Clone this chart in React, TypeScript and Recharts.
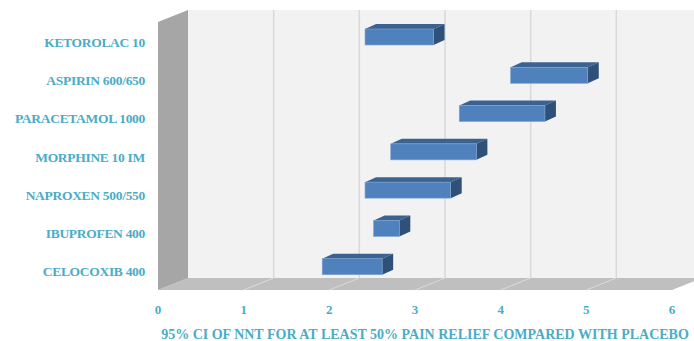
import { BarChart, Bar, XAxis, YAxis, ReferenceArea } from "recharts";

const drugs = [
  "KETOROLAC 10",
  "ASPIRIN 600/650",
  "PARACETAMOL 1000",
  "MORPHINE 10 IM",
  "NAPROXEN 500/550",
  "IBUPROFEN 400",
  "CELOCOXIB 400",
];
const ciLow = [2.3, 4.0, 3.4, 2.6, 2.3, 2.4, 1.8];
const ciHigh = [3.1, 4.9, 4.4, 3.6, 3.3, 2.7, 2.5];
const xTicks = [0, 1, 2, 3, 4, 5, 6];
const TITLE = "95% CI OF NNT FOR AT LEAST 50% PAIN RELIEF COMPARED WITH PLACEBO";

const data = drugs.map((name, i) => ({ name, range: [ciLow[i], ciHigh[i]] }));

// depth offsets relative to the bar plane
const BX = 20, BY = -8; // back wall
const FX = -10, FY = 4; // front edge
const TEXT = "#4bacc6";
const FONT = "'Liberation Serif', 'Times New Roman', serif";

// one slice of back wall + floor per axis interval
function WallSlice(props: any) {
  const { x, y, width, height, first } = props;
  const b = y + height;
  const r = x + width;
  return (
    <g>
      <rect x={x + BX} y={y + BY} width={width} height={height} fill="#f2f2f2" />
      <polygon
        points={`${x + FX},${b + FY} ${r + FX},${b + FY} ${r + BX},${b + BY} ${x + BX},${b + BY}`}
        fill="#bfbfbf"
      />
      {!first && (
        <>
          <line x1={x + BX} y1={y + BY} x2={x + BX} y2={b + BY} stroke="#d9d9d9" strokeWidth={1.5} />
          <line x1={x + FX} y1={b + FY} x2={x + BX} y2={b + BY} stroke="#d9d9d9" strokeWidth={1} />
        </>
      )}
      {first && (
        <polygon
          points={`${x + FX},${y + FY} ${x + BX},${y + BY} ${x + BX},${b + BY} ${x + FX},${b + FY}`}
          fill="#a6a6a6"
        />
      )}
    </g>
  );
}

function Box3D(props: any) {
  const { x, y, width, height } = props;
  if (width == null || height == null) return null;
  const dx = 11, dy = 5;
  const r = x + width;
  const b = y + height;
  return (
    <g>
      <polygon points={`${x},${y} ${r},${y} ${r + dx},${y - dy} ${x + dx},${y - dy}`} fill="#3b6391" />
      <polygon points={`${r},${y} ${r + dx},${y - dy} ${r + dx},${b - dy} ${r},${b}`} fill="#2f5079" />
      <rect x={x} y={y} width={width} height={height} fill="#4f81bd" stroke="#7fa3d0" strokeWidth={0.6} />
    </g>
  );
}

function CatTick(props: any) {
  const { x, y, payload } = props;
  return (
    <text x={x - 21} y={y + 5} textAnchor="end" dominantBaseline="central" fill={TEXT}
      fontFamily={FONT} fontWeight="bold" fontSize={13.5} letterSpacing={-0.3}>
      {payload.value}
    </text>
  );
}

function NumTick(props: any) {
  const { x, y, payload } = props;
  return (
    <text x={x + FX} y={y + 21} textAnchor="middle" dominantBaseline="central" fill={TEXT}
      fontFamily={FONT} fontWeight="bold" fontSize={13}>
      {payload.value}
    </text>
  );
}

function AxisTitle(props: any) {
  const { viewBox } = props;
  if (!viewBox) return null;
  return (
    <text x={viewBox.x + viewBox.width / 2} y={334} textAnchor="middle" dominantBaseline="central"
      fill={TEXT} fontFamily={FONT} fontWeight="bold" fontSize={14}>
      {TITLE}
    </text>
  );
}

export default function App() {
  return (
    <div style={{ position: "absolute", left: 0, top: 0, width: 694, height: 341, background: "#fff" }}>
      <BarChart
        width={694}
        height={341}
        data={data}
        layout="vertical"
        margin={{ top: 18, right: 12, bottom: 25, left: 8 }}
        barSize={16}
      >
        <XAxis
          type="number"
          domain={[0, 6]}
          ticks={xTicks}
          axisLine={false}
          tickLine={false}
          tickSize={0}
          height={30}
          tick={<NumTick />}
          label={<AxisTitle />}
        />
        <YAxis
          type="category"
          dataKey="name"
          width={160}
          axisLine={false}
          tickLine={false}
          tickSize={0}
          tick={<CatTick />}
        />
        {xTicks.slice(0, -1).map((t, i) => (
          <ReferenceArea
            key={t}
            x1={t}
            x2={xTicks[i + 1]}
            ifOverflow="visible"
            shape={(p: any) => <WallSlice {...p} first={i === 0} />}
          />
        ))}
        <Bar dataKey="range" shape={<Box3D />} isAnimationActive={false} />
      </BarChart>
    </div>
  );
}
